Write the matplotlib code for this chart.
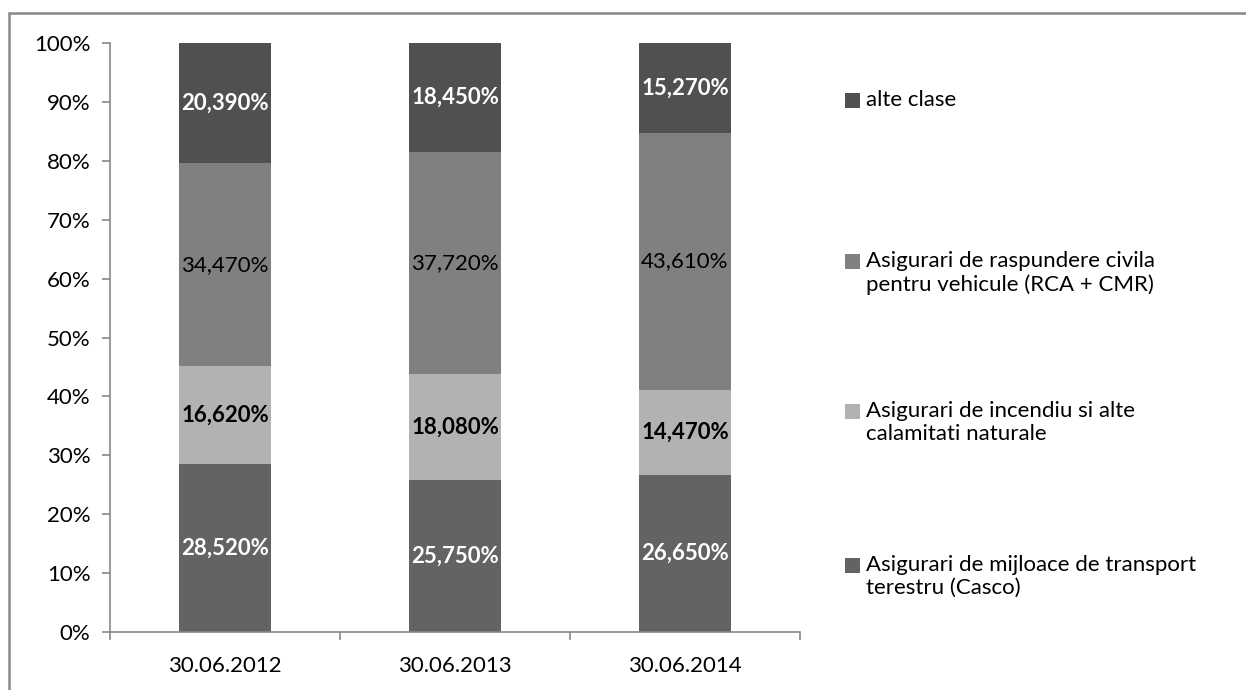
import matplotlib.pyplot as plt
from matplotlib.patches import Rectangle
from matplotlib.ticker import PercentFormatter

dates = ['30.06.2012', '30.06.2013', '30.06.2014']
series = [
    'Asigurari de mijloace de transport\nterestru (Casco)',
    'Asigurari de incendiu si alte\ncalamitati naturale',
    'Asigurari de raspundere civila\npentru vehicule (RCA + CMR)',
    'alte clase',
]
casco = [28.52, 25.75, 26.65]
incendiu = [16.62, 18.08, 14.47]
rca = [34.47, 37.72, 43.61]
alte = [20.39, 18.45, 15.27]

colors = ['#636363', '#b2b2b2', '#808080', '#505050']
label_colors = ['white', 'black', 'black', 'white']
label_weights = ['bold', 'bold', 'normal', 'bold']
legend_y = [565, 411, 261, 100]  # pixel centre of first legend line

W, H = 1246, 690


def main():
    plt.rcParams['font.family'] = ['Lato', 'DejaVu Sans']
    fig = plt.figure(figsize=(W / 100, H / 100), dpi=100)
    ax = fig.add_axes([110 / W, 58 / H, 690 / W, 589 / H])

    # outer chart border (right and bottom edges fall outside the picture)
    fig.patches.append(Rectangle((9 / W, -0.05), 1.2, 1 - 13 / H + 0.05,
                                 transform=fig.transFigure, fill=False,
                                 edgecolor='#888888', linewidth=1.8))

    x = list(range(len(dates)))
    bottom = [0, 0, 0]
    for i, vals in enumerate([casco, incendiu, rca, alte]):
        ax.bar(x, vals, 0.40, bottom=bottom, color=colors[i], edgecolor='none')
        for xi, v, b in zip(x, vals, bottom):
            ax.text(xi, b + v / 2, f'{v:.3f}%'.replace('.', ','), ha='center', va='center',
                    fontsize=16, color=label_colors[i], fontweight=label_weights[i])
        bottom = [b + v for b, v in zip(bottom, vals)]

    ax.set_xlim(-0.5, 2.5)
    ax.set_ylim(0, 100)
    ax.set_yticks(range(0, 101, 10))
    ax.yaxis.set_major_formatter(PercentFormatter(decimals=0))
    ax.set_xticks(x)
    ax.set_xticklabels(dates)
    ax.set_xticks([-0.5, 0.5, 1.5, 2.5], minor=True)
    ax.tick_params(axis='x', which='major', length=0, pad=17, labelsize=16)
    ax.tick_params(axis='x', which='minor', length=6, width=1.2, color='#888888')
    ax.tick_params(axis='y', length=6, width=1.2, color='#888888', labelsize=16, pad=8)
    for s in ['top', 'right']:
        ax.spines[s].set_visible(False)
    for s in ['left', 'bottom']:
        ax.spines[s].set_color('#888888')
        ax.spines[s].set_linewidth(1.2)

    for name, c, yp in zip(series, colors, legend_y):
        fy = 1 - yp / H
        fig.patches.append(Rectangle((845 / W, fy - 7.5 / H), 15 / W, 15 / H,
                                     transform=fig.transFigure,
                                     facecolor=c, edgecolor='none'))
        fig.text(866 / W, fy + 10 / H, name, ha='left', va='top', fontsize=16,
                 linespacing=1.2)

    fig.savefig('out.png', dpi=100)


if __name__ == '__main__':
    main()
